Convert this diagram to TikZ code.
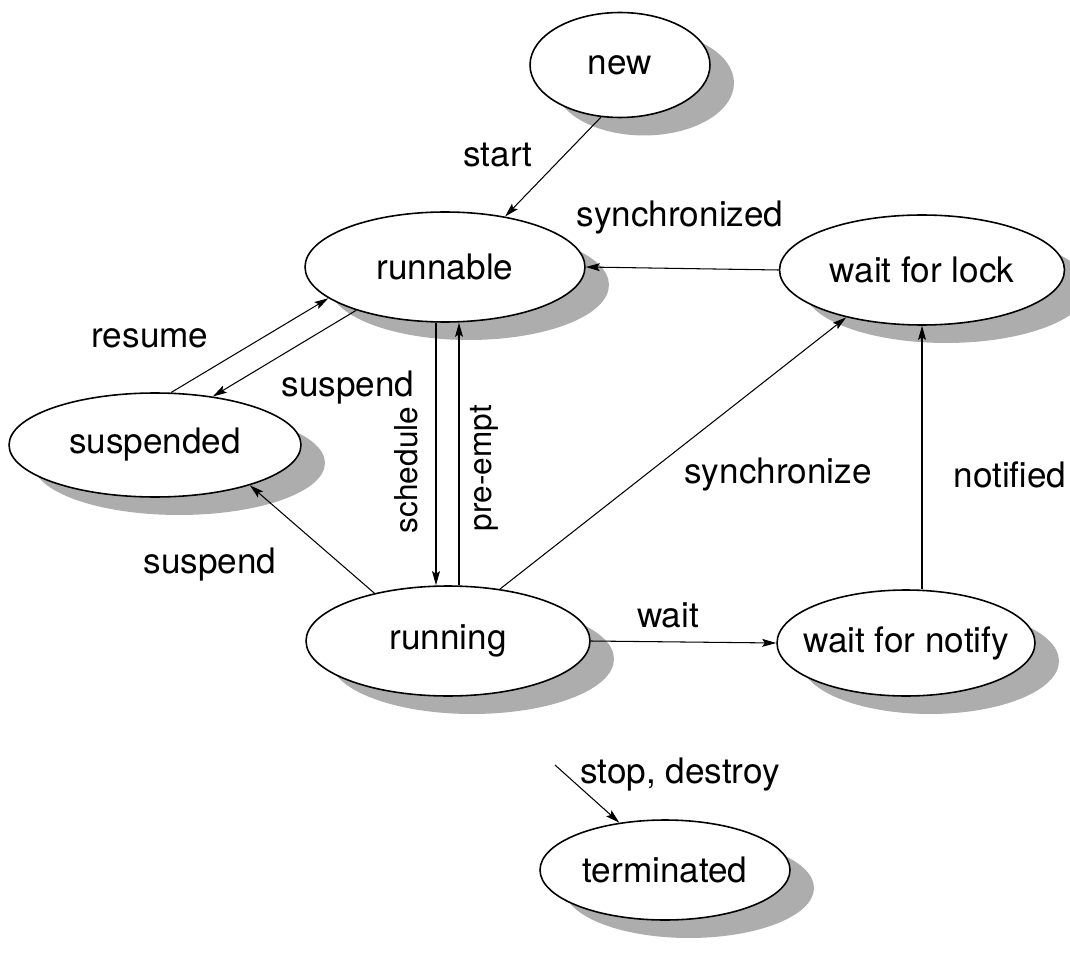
\documentclass[tikz,border=0pt]{standalone}
\usepackage{fontspec}
\setmainfont{TeX Gyre Heros}
\usetikzlibrary{arrows.meta, shapes.geometric, shadows}

\tikzset{
  state/.style={ellipse, draw, line width=0.9pt, fill=white, inner sep=0pt,
    font=\fontsize{20}{24}\selectfont,
    drop shadow={shadow xshift=0.48cm, shadow yshift=-0.36cm, fill=black!32, opacity=1}},
  trans/.style={line width=0.6pt, -{Stealth[length=8pt,width=4.5pt,inset=1.5pt]}},
  lbl/.style={font=\fontsize{20}{24}\selectfont, inner sep=1pt},
  vlbl/.style={font=\fontsize{18}{22}\selectfont, inner sep=1pt, rotate=90}
}

\begin{document}
\begin{tikzpicture}[x=0.02cm, y=-0.02cm]
\useasboundingbox (0,0) rectangle (1070,952);
% states
\node[state, minimum width=3.6cm, minimum height=2.1cm] (new) at (620,65) {new};
\node[state, minimum width=5.6cm, minimum height=2.2cm] (runnable) at (445,267) {runnable};
\node[state, minimum width=5.7cm, minimum height=2.2cm] (lock) at (922,270) {wait for lock};
\node[state, minimum width=5.84cm, minimum height=2.08cm] (suspended) at (155,445) {suspended};
\node[state, minimum width=5.68cm, minimum height=2.2cm] (running) at (448,641) {running};
\node[state, minimum width=5.16cm, minimum height=2.12cm, inner xsep=-0.25cm] (notify) at (906,643) {wait for notify};
\node[state, minimum width=5cm, minimum height=2cm] (term) at (665,870) {terminated};
\coordinate (stopfrom) at (555,765);

% transitions
\draw[trans] (new.250) -- (runnable.40);
\draw[trans] (lock.west) -- (runnable.east);
\draw[trans] (suspended.73) -- (runnable.195);
\draw[trans] (runnable.206) -- (suspended.40);
\draw[trans] ([xshift=-0.18cm]runnable.south) -- ([xshift=-0.18cm]runnable.south |- running.north);
\draw[trans] ([xshift=0.22cm]running.north) -- ([xshift=0.22cm]running.north |- runnable.south);
\draw[trans] (running.45) -- (lock.212);
\draw[trans] (running.147) -- (suspended.337);
\draw[trans] (running.east) -- (notify.west);
\draw[trans] (notify.north -| lock.south) -- (lock.south);
\draw[trans] (stopfrom) -- (term.134);

% labels
\node[lbl] (lstart) at (498,155) {start};
\node[lbl] (lsynced) at (680,218) {synchronized};
\node[lbl] (lresume) at (150,338) {resume};
\node[lbl] (lsusp1) at (348,388) {suspend};
\node[vlbl] (lsched) at (406,470) {schedule};
\node[vlbl] (lpreempt) at (484,468) {pre-empt};
\node[lbl] (lsync) at (778,475) {synchronize};
\node[lbl] (lsusp2) at (210,565) {suspend};
\node[lbl] (lwait) at (668,615) {wait};
\node[lbl] (lnotified) at (1010,475) {notified};
\node[lbl] (lstop) at (680,775) {stop, destroy};
\end{tikzpicture}
\end{document}
